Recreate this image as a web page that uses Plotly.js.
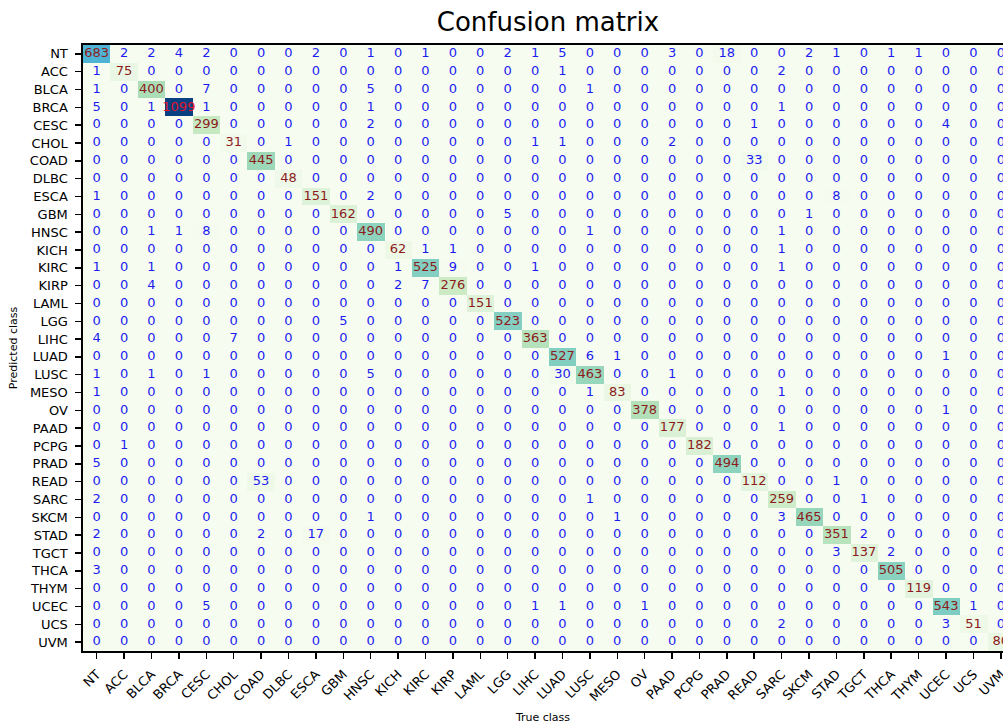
<!DOCTYPE html>
<html>
<head>
<meta charset="utf-8">
<script src="https://cdn.plot.ly/plotly-3.0.1.min.js"></script>
<style>
  html, body { margin: 0; padding: 0; background: #ffffff; overflow: hidden; }
  #chart { width: 1003px; height: 724px; }
</style>
</head>
<body>
<div id="chart"></div>
<script>
// Class labels (true class on x, predicted class on y)
const classes = ['NT','ACC','BLCA','BRCA','CESC','CHOL','COAD','DLBC','ESCA','GBM','HNSC','KICH','KIRC','KIRP','LAML','LGG','LIHC','LUAD','LUSC','MESO','OV','PAAD','PCPG','PRAD','READ','SARC','SKCM','STAD','TGCT','THCA','THYM','UCEC','UCS','UVM'];

// One row per predicted class; columns follow `classes` (true class)
const rowNT   = [683,2,2,4,2,0,0,0,2, 0,1,0,1,0,0,2,1,5,0,0,0, 3,0,18,0,0,2,1,0,1,1,0,0,0];
const rowACC  = [1,75,0,0,0,0,0,0,0, 0,0,0,0,0,0,0,0,1,0,0,0, 0,0,0,0,2,0,0,0,0,0,0,0,0];
const rowBLCA = [1,0,400,0,7,0,0,0,0, 0,5,0,0,0,0,0,0,0,1,0,0, 0,0,0,0,0,0,0,0,0,0,0,0,0];
const rowBRCA = [5,0,1,1099,1,0,0,0,0, 0,1,0,0,0,0,0,0,0,0,0,0, 0,0,0,0,1,0,0,0,0,0,0,0,0];
const rowCESC = [0,0,0,0,299,0,0,0,0, 0,2,0,0,0,0,0,0,0,0,0,0, 0,0,0,1,0,0,0,0,0,0,4,0,0];
const rowCHOL = [0,0,0,0,0,31,0,1,0, 0,0,0,0,0,0,0,1,1,0,0,0, 2,0,0,0,0,0,0,0,0,0,0,0,0];
const rowCOAD = [0,0,0,0,0,0,445,0,0, 0,0,0,0,0,0,0,0,0,0,0,0, 0,0,0,33,0,0,0,0,0,0,0,0,0];
const rowDLBC = [0,0,0,0,0,0,0,48,0, 0,0,0,0,0,0,0,0,0,0,0,0, 0,0,0,0,0,0,0,0,0,0,0,0,0];
const rowESCA = [1,0,0,0,0,0,0,0,151, 0,2,0,0,0,0,0,0,0,0,0,0, 0,0,0,0,0,0,8,0,0,0,0,0,0];
const rowGBM  = [0,0,0,0,0,0,0,0,0, 162,0,0,0,0,0,5,0,0,0,0,0, 0,0,0,0,0,1,0,0,0,0,0,0,0];
const rowHNSC = [0,0,1,1,8,0,0,0,0, 0,490,0,0,0,0,0,0,0,1,0,0, 0,0,0,0,1,0,0,0,0,0,0,0,0];
const rowKICH = [0,0,0,0,0,0,0,0,0, 0,0,62,1,1,0,0,0,0,0,0,0, 0,0,0,0,1,0,0,0,0,0,0,0,0];
const rowKIRC = [1,0,1,0,0,0,0,0,0, 0,0,1,525,9,0,0,1,0,0,0,0, 0,0,0,0,1,0,0,0,0,0,0,0,0];
const rowKIRP = [0,0,4,0,0,0,0,0,0, 0,0,2,7,276,0,0,0,0,0,0,0, 0,0,0,0,0,0,0,0,0,0,0,0,0];
const rowLAML = [0,0,0,0,0,0,0,0,0, 0,0,0,0,0,151,0,0,0,0,0,0, 0,0,0,0,0,0,0,0,0,0,0,0,0];
const rowLGG  = [0,0,0,0,0,0,0,0,0, 5,0,0,0,0,0,523,0,0,0,0,0, 0,0,0,0,0,0,0,0,0,0,0,0,0];
const rowLIHC = [4,0,0,0,0,7,0,0,0, 0,0,0,0,0,0,0,363,0,0,0,0, 0,0,0,0,0,0,0,0,0,0,0,0,0];
const rowLUAD = [0,0,0,0,0,0,0,0,0, 0,0,0,0,0,0,0,0,527,6,1,0, 0,0,0,0,0,0,0,0,0,0,1,0,0];
const rowLUSC = [1,0,1,0,1,0,0,0,0, 0,5,0,0,0,0,0,0,30,463,0,0, 1,0,0,0,0,0,0,0,0,0,0,0,0];
const rowMESO = [1,0,0,0,0,0,0,0,0, 0,0,0,0,0,0,0,0,0,1,83,0, 0,0,0,0,1,0,0,0,0,0,0,0,0];
const rowOV   = [0,0,0,0,0,0,0,0,0, 0,0,0,0,0,0,0,0,0,0,0,378, 0,0,0,0,0,0,0,0,0,0,1,0,0];
const rowPAAD = [0,0,0,0,0,0,0,0,0, 0,0,0,0,0,0,0,0,0,0,0,0, 177,0,0,0,1,0,0,0,0,0,0,0,0];
const rowPCPG = [0,1,0,0,0,0,0,0,0, 0,0,0,0,0,0,0,0,0,0,0,0, 0,182,0,0,0,0,0,0,0,0,0,0,0];
const rowPRAD = [5,0,0,0,0,0,0,0,0, 0,0,0,0,0,0,0,0,0,0,0,0, 0,0,494,0,0,0,0,0,0,0,0,0,0];
const rowREAD = [0,0,0,0,0,0,53,0,0, 0,0,0,0,0,0,0,0,0,0,0,0, 0,0,0,112,0,0,1,0,0,0,0,0,0];
const rowSARC = [2,0,0,0,0,0,0,0,0, 0,0,0,0,0,0,0,0,0,1,0,0, 0,0,0,0,259,0,0,1,0,0,0,0,0];
const rowSKCM = [0,0,0,0,0,0,0,0,0, 0,1,0,0,0,0,0,0,0,0,1,0, 0,0,0,0,3,465,0,0,0,0,0,0,0];
const rowSTAD = [2,0,0,0,0,0,2,0,17, 0,0,0,0,0,0,0,0,0,0,0,0, 0,0,0,0,0,0,351,2,0,0,0,0,0];
const rowTGCT = [0,0,0,0,0,0,0,0,0, 0,0,0,0,0,0,0,0,0,0,0,0, 0,0,0,0,0,0,3,137,2,0,0,0,0];
const rowTHCA = [3,0,0,0,0,0,0,0,0, 0,0,0,0,0,0,0,0,0,0,0,0, 0,0,0,0,0,0,0,0,505,0,0,0,0];
const rowTHYM = [0,0,0,0,0,0,0,0,0, 0,0,0,0,0,0,0,0,0,0,0,0, 0,0,0,0,0,0,0,0,0,119,0,0,0];
const rowUCEC = [0,0,0,0,5,0,0,0,0, 0,0,0,0,0,0,0,1,1,0,0,1, 0,0,0,0,0,0,0,0,0,0,543,1,0];
const rowUCS  = [0,0,0,0,0,0,0,0,0, 0,0,0,0,0,0,0,0,0,0,0,0, 0,0,0,0,2,0,0,0,0,0,3,51,0];
const rowUVM  = [0,0,0,0,0,0,0,0,0, 0,0,0,0,0,0,0,0,0,0,0,0, 0,0,0,0,0,0,0,0,0,0,0,0,80];

const matrix = [rowNT,rowACC,rowBLCA,rowBRCA,rowCESC,rowCHOL,rowCOAD,rowDLBC,rowESCA,rowGBM,rowHNSC,rowKICH,rowKIRC,rowKIRP,rowLAML,rowLGG,rowLIHC,rowLUAD,rowLUSC,rowMESO,rowOV,rowPAAD,rowPCPG,rowPRAD,rowREAD,rowSARC,rowSKCM,rowSTAD,rowTGCT,rowTHCA,rowTHYM,rowUCEC,rowUCS,rowUVM];

// GnBu colour map
const gnbu = [
  [0.0,'#f7fcf0'],[0.125,'#e0f3db'],[0.25,'#ccebc5'],[0.375,'#a8ddb5'],
  [0.5,'#7bccc4'],[0.625,'#4eb3d3'],[0.75,'#2b8cbe'],[0.875,'#0868ac'],[1.0,'#084081']
];

let zmax = 0;
matrix.forEach(r => r.forEach(v => { if (v > zmax) zmax = v; }));

const tx = [], ty = [], tt = [], tc = [];
for (let i = 0; i < classes.length; i++) {
  for (let j = 0; j < classes.length; j++) {
    const v = matrix[i][j];
    tx.push(classes[j]); ty.push(classes[i]); tt.push(String(v));
    if (i === j) tc.push(v > 0.9 * zmax ? '#e3142e' : '#8c1c1c');
    else tc.push('#1c1cf2');
  }
}

const font = 'DejaVu Sans, Arial, sans-serif';

const heat = {
  type: 'heatmap', x: classes, y: classes, z: matrix,
  colorscale: gnbu, zmin: 0, zmax: zmax, showscale: false,
  hoverinfo: 'none', xgap: 0, ygap: 0
};
const labels = {
  type: 'scatter', mode: 'text', x: tx, y: ty, text: tt,
  textposition: 'middle center',
  textfont: { family: font, size: 13, color: tc },
  hoverinfo: 'none', showlegend: false, cliponaxis: true
};

const layout = {
  width: 1003, height: 724,
  margin: { l: 83, r: 0, t: 45, b: 73 },
  paper_bgcolor: '#ffffff', plot_bgcolor: '#ffffff',
  font: { family: font, color: '#000000' },
  showlegend: false,
  title: {
    text: 'Confusion matrix', font: { family: font, size: 26, color: '#000' },
    xref: 'container', yref: 'container', x: 548 / 1003, y: 1 - 22 / 724,
    xanchor: 'center', yanchor: 'middle'
  },
  xaxis: {
    type: 'category', categoryorder: 'array', categoryarray: classes,
    range: [-0.5, 33.08], showgrid: false, zeroline: false,
    showline: true, linecolor: '#000', linewidth: 1.6, mirror: true,
    ticks: 'outside', ticklen: 6, tickwidth: 1.5, tickcolor: '#000',
    ticklabelstandoff: 3,
    tickangle: -45, tickfont: { family: font, size: 13, color: '#000' },
    title: { text: 'True class', font: { family: font, size: 11, color: '#000' }, standoff: 12 },
    automargin: false, fixedrange: true
  },
  yaxis: {
    type: 'category', categoryorder: 'array', categoryarray: classes,
    range: [33.5, -0.5], showgrid: false, zeroline: false,
    showline: true, linecolor: '#000', linewidth: 1.6, mirror: false,
    ticks: 'outside', ticklen: 6, tickwidth: 1.5, tickcolor: '#000',
    ticklabelstandoff: 5,
    tickfont: { family: font, size: 13, color: '#000' },
    title: { text: 'Predicted class', font: { family: font, size: 11, color: '#000' }, standoff: 10 },
    automargin: false, fixedrange: true
  }
};

Plotly.newPlot('chart', [heat, labels], layout, { staticPlot: true, displayModeBar: false });
</script>
</body>
</html>
